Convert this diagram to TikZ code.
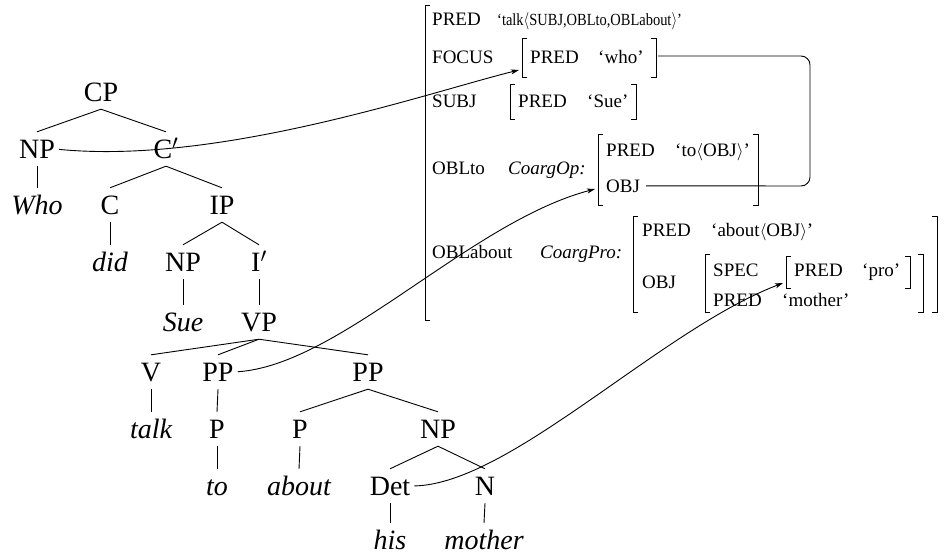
\documentclass[tikz,border=0pt]{standalone}
\usepackage{fontspec}
\setmainfont{Liberation Serif}
\usetikzlibrary{arrows.meta,calc}
\begin{document}
\begin{tikzpicture}[x=1pt,y=-1pt,
  tn/.style={font=\fontsize{28}{30}\selectfont, inner sep=0pt, text height=26.3pt, text depth=7.7pt},
  tw/.style={tn, font=\fontsize{28}{30}\selectfont\itshape},
  edge/.style={line width=0.9pt},
  av/.style={font=\fontsize{19}{21}\selectfont, inner sep=0pt, anchor=base west},
  avi/.style={av, font=\fontsize{19}{21}\selectfont\itshape},
  brk/.style={line width=0.9pt},
  conn/.style={line width=0.9pt, -{Stealth[length=8pt,width=5pt,inset=2pt]}, shorten <=4pt},
]
\useasboundingbox (0,0) rectangle (949,554);

% ---------------- tree ----------------
\node[tn] (CP) at (101,92) {CP};
\node[tn] (NPa) at (37,149) {NP};
\node[tn] (Cb) at (166,149) {C\ensuremath{'}};
\node[tw] (who) at (37,205) {Who};
\node[tn] (C) at (110,205) {C};
\node[tn] (IP) at (222,205) {IP};
\node[tw] (did) at (110,262) {did};
\node[tn] (NPb) at (183,262) {NP};
\node[tn] (Ib) at (259,262) {I\ensuremath{'}};
\node[tw] (sue) at (183,322) {Sue};
\node[tn] (VP) at (259,322) {VP};
\node[tn] (V) at (151,372) {V};
\node[tn] (PPa) at (218,372) {PP};
\node[tn] (PPb) at (368,372) {PP};
\node[tw] (talk) at (151,429) {talk};
\node[tn] (Pa) at (217,429) {P};
\node[tn] (Pb) at (300,429) {P};
\node[tn] (NPc) at (438,429) {NP};
\node[tw] (to) at (217,486) {to};
\node[tw] (about) at (299,486) {about};
\node[tn] (Det) at (390,486) {Det};
\node[tn] (N) at (485,486) {N};
\node[tw] (his) at (390,540) {his};
\node[tw] (mother) at (484,540) {mother};

\foreach \p/\c in {CP/NPa,CP/Cb,NPa/who,Cb/C,Cb/IP,C/did,IP/NPb,IP/Ib,NPb/sue,Ib/VP,
  VP/V,VP/PPa,VP/PPb,V/talk,PPa/Pa,Pa/to,PPb/Pb,PPb/NPc,Pb/about,NPc/Det,NPc/N,Det/his,N/mother}
  \draw[edge] (\p.south) -- (\c.north);

% ---------------- f-structure ----------------
\draw[brk] (430,5) -- (425,5) -- (425,320) -- (430,320);

\node[av] (a1) at (432,25) {PRED};
\node[av] (v1) at (497,25) {\scalebox{0.85}[1]{\fontsize{17}{19}\selectfont ‘talk$\langle$SUBJ,OBLto,OBLabout$\rangle$’}};

\node[av] (a2) at (432,63) {FOCUS};
\draw[brk] (527,38) -- (522,38) -- (522,77) -- (527,77);
\node[av] (a2p) at (530,63) {PRED};
\node[av] (v2) at (598,63) {‘who’};
\draw[brk] (651,38) -- (656,38) -- (656,77) -- (651,77);
\coordinate (focR) at (658,56);

\node[av] (a3) at (432,107) {SUBJ};
\draw[brk] (515,84) -- (510,84) -- (510,119) -- (515,119);
\node[av] (a3p) at (518,107) {PRED};
\node[av] (v3) at (587,107) {‘Sue’};
\draw[brk] (631,84) -- (636,84) -- (636,119) -- (631,119);

\node[av] (a4) at (432,174) {OBLto};
\node[avi] (c4) at (508,174) {CoargOp:};
\draw[brk] (603,134) -- (598,134) -- (598,205) -- (603,205);
\node[av] (a4p) at (606,156) {PRED};
\node[av] (v4) at (675,156) {‘to$\langle$OBJ$\rangle$’};
\node[av] (a4o) at (606,192) {OBJ};
\draw[brk] (753,134) -- (758,134) -- (758,205) -- (753,205);
\coordinate (toL) at (595,189);
\coordinate (bend) at (810,186);

\node[av] (a5) at (432,258) {OBLabout};
\node[avi] (c5) at (540,258) {CoargPro:};
\draw[brk] (638,216) -- (633,216) -- (633,312) -- (638,312);
\node[av] (a5p) at (642,236) {PRED};
\node[av] (v5) at (711,236) {‘about$\langle$OBJ$\rangle$’};
\node[av] (a5o) at (642,288) {OBJ};
\draw[brk] (710,254) -- (705,254) -- (705,312) -- (710,312);
\node[av] (a6) at (713,276) {SPEC};
\draw[brk] (791,256) -- (786,256) -- (786,288) -- (791,288);
\node[av] (a6p) at (794,276) {PRED};
\node[av] (v6) at (862,276) {‘pro’};
\draw[brk] (905,256) -- (910,256) -- (910,288) -- (905,288);
\draw[brk] (918,254) -- (923,254) -- (923,312) -- (918,312);
\node[av] (a7) at (713,306) {PRED};
\node[av] (v7) at (782,306) {‘mother’};
\draw[brk] (932,216) -- (937,216) -- (937,312) -- (932,312);
\coordinate (proL) at (783,283);

% ---------------- connectors ----------------
\draw[conn] (NPa.east) .. controls (220,165) and (430,92) .. (519,70);
\draw[conn] (PPa.east) .. controls (340,365) and (470,222) .. (toL);
\draw[conn] (Det.east) .. controls (510,484) and (660,330) .. (proL);
\draw[edge, rounded corners=9pt] (focR) -| (bend) -- ([xshift=6pt]a4o.east);
\end{tikzpicture}
\end{document}
